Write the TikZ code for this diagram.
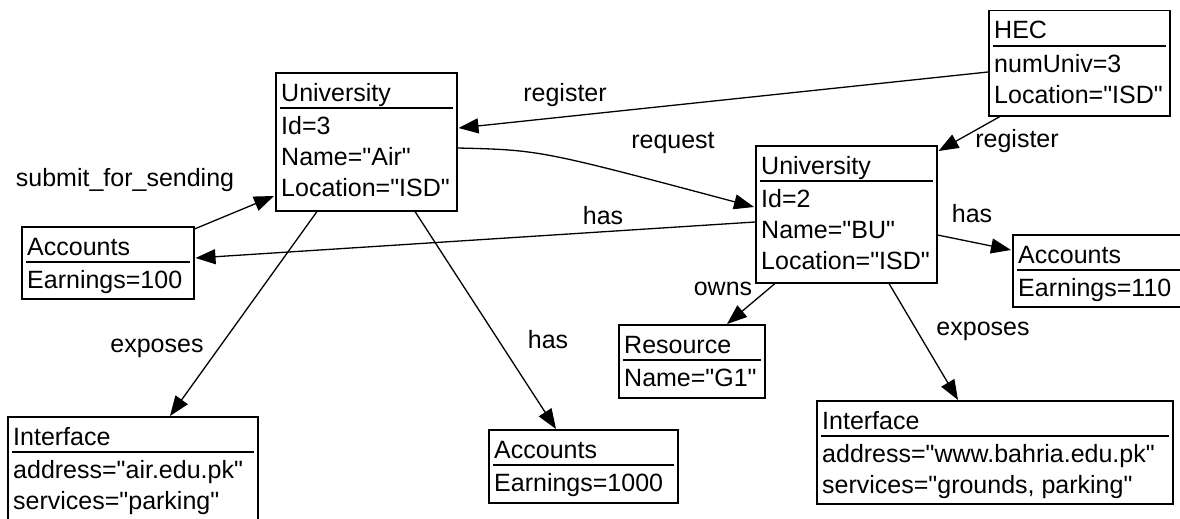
\documentclass[tikz,border=0pt]{standalone}
\usepackage{fontspec}
\newfontfamily\umlfont{Liberation Sans}
\usetikzlibrary{arrows.meta,calc}
\newcommand\umlbox[6]{%
  \node[cls, minimum width=#4pt, minimum height=#5pt] (#1) at (#2,#3) {};
  \node[txt] (#1-t) at ($(#1.north west)+(6,29)$) {#6};
  \draw[sepline] ($(#1.north west)+(5,36)$) -- ($(#1.north east)+(-5,36)$);
}
\newcommand\umlrow[3]{%
  \node[txt] (#1-#2) at ($(#1.north west)+(6,{62+31*(#2-1)})$) {#3};
}
\begin{document}
\begin{tikzpicture}[x=1pt,y=-1pt,
  cls/.style={draw, line width=1.5pt, inner sep=0pt, anchor=north west},
  txt/.style={inner sep=0pt, anchor=base west, font=\umlfont\fontsize{25}{30}\selectfont},
  lbl/.style={inner sep=0pt, font=\umlfont\fontsize{25}{30}\selectfont},
  sepline/.style={line width=1.5pt},
  rel/.style={line width=1.3pt, -{Triangle[length=20pt,width=15pt]}}]
\useasboundingbox (0,0) rectangle (1180,519);
\clip (0,0) rectangle (1180,519);

\umlbox{u1}{275}{72}{181}{138}{University}
\umlrow{u1}{1}{Id=3}
\umlrow{u1}{2}{Name="Air"}
\umlrow{u1}{3}{Location="ISD"}

\umlbox{hec}{988}{10}{181}{105}{HEC}
\umlrow{hec}{1}{numUniv=3}
\umlrow{hec}{2}{Location="ISD"}

\umlbox{u2}{755}{145}{181}{137}{University}
\umlrow{u2}{1}{Id=2}
\umlrow{u2}{2}{Name="BU"}
\umlrow{u2}{3}{Location="ISD"}

\umlbox{a1}{21}{226}{172}{72}{Accounts}
\umlrow{a1}{1}{Earnings=100}

\umlbox{a3}{1012}{234}{190}{72}{Accounts}
\umlrow{a3}{1}{Earnings=110}

\umlbox{r1}{618}{324}{146}{73}{Resource}
\umlrow{r1}{1}{Name="G1"}

\umlbox{a2}{488}{429}{189}{73}{Accounts}
\umlrow{a2}{1}{Earnings=1000}

\umlbox{i1}{7}{416}{250}{110}{Interface}
\umlrow{i1}{1}{address="air.edu.pk"}
\umlrow{i1}{2}{services="parking"}

\umlbox{i2}{816}{400}{356}{103}{Interface}
\umlrow{i2}{1}{address="www.bahria.edu.pk"}
\umlrow{i2}{2}{services="grounds, parking"}

% connectors
\draw[rel] ($(hec.north west)+(0,62)$) -- ($(u1.north east)+(1,56)$);
\draw[rel] ($(hec.south west)+(12,0)$) -- ($(u2.north east)+(1,6)$);
\draw[rel] ($(u1.north east)+(0,76)$) .. controls (540,150) .. ($(u2.north west)+(-1,62)$);
\draw[rel] ($(u2.north west)+(0,77)$) -- ($(a1.north east)+(1,32)$);
\draw[rel] ($(a1.north east)+(0,3)$) -- ($(u1.north west)+(-1,124)$);
\draw[rel] ($(u1.south west)+(42,0)$) -- ($(i1.north west)+(163,0)$);
\draw[rel] ($(u1.south west)+(140,0)$) -- ($(a2.north west)+(68,0)$);
\draw[rel] ($(u2.north east)+(0,90)$) -- ($(a3.north west)+(-1,16)$);
\draw[rel] ($(u2.south west)+(20,0)$) -- ($(r1.north west)+(109,0)$);
\draw[rel] ($(u2.south west)+(134,0)$) -- ($(i2.north west)+(142,0)$);

% labels
\node[lbl] (l1) at (565,95) {register};
\node[lbl] (l2) at (1017,141) {register};
\node[lbl] (l3) at (673,143) {request};
\node[lbl] (l4) at (603,216) {has};
\node[lbl] (l5) at (125,180) {submit\_for\_sending};
\node[lbl] (l6) at (157,348) {exposes};
\node[lbl] (l7) at (548,340) {has};
\node[lbl] (l8) at (972,214) {has};
\node[lbl] (l9) at (723,289) {owns};
\node[lbl] (l10) at (983,331) {exposes};
\end{tikzpicture}
\end{document}
